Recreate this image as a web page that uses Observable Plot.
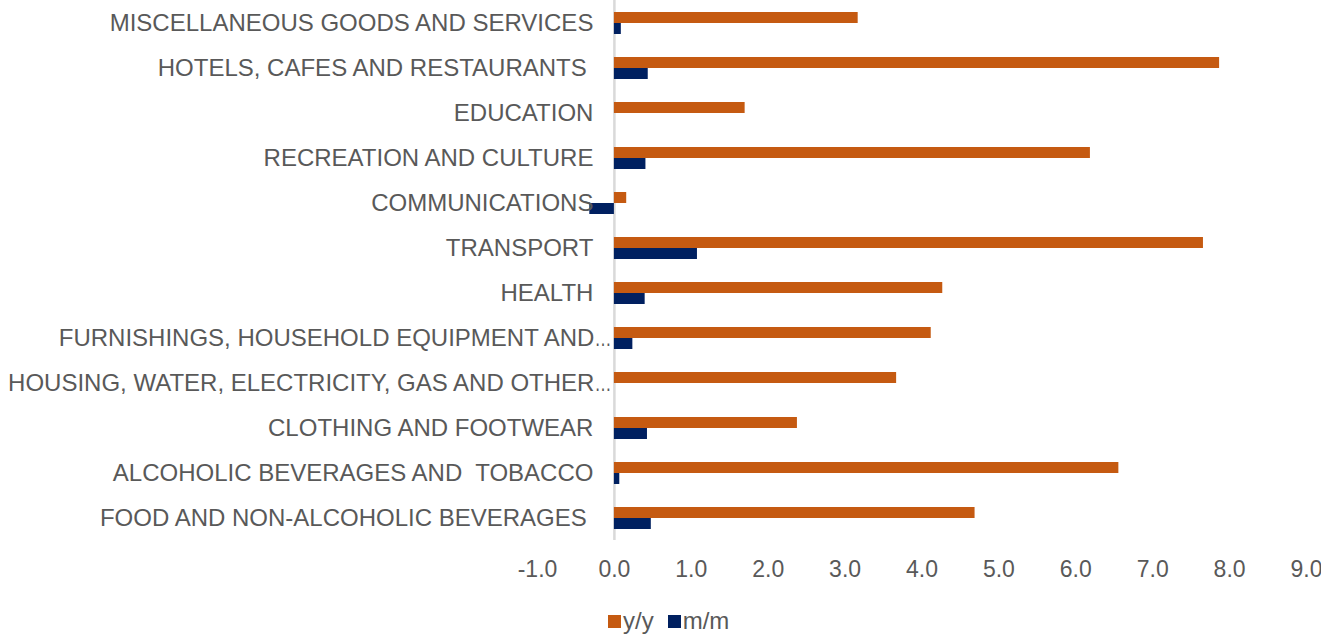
<!DOCTYPE html>
<html><head><meta charset="utf-8">
<script src="https://cdn.jsdelivr.net/npm/d3@7"></script>
<script src="https://cdn.jsdelivr.net/npm/@observablehq/plot@0.6"></script>
<style>
body{margin:0;background:#fff;font-family:"Liberation Sans",Arial,sans-serif;position:relative;width:1321px;height:635px;overflow:hidden;}
#legend{position:absolute;left:608px;top:606px;height:30px;display:flex;align-items:center;font-size:24px;color:#595959;line-height:30px;}
#legend .sw{display:inline-block;width:13px;height:13px;margin-right:2px;}
#legend .item{display:flex;align-items:center;margin-right:14px;}
</style></head><body><div id="chart"></div><div id="legend"></div>
<script>
const categories = [
  "MISCELLANEOUS GOODS AND SERVICES",
  "HOTELS, CAFES AND RESTAURANTS ",
  "EDUCATION",
  "RECREATION AND CULTURE",
  "COMMUNICATIONS",
  "TRANSPORT",
  "HEALTH",
  "FURNISHINGS, HOUSEHOLD EQUIPMENT AND…",
  "HOUSING, WATER, ELECTRICITY, GAS AND OTHER…",
  "CLOTHING AND FOOTWEAR",
  "ALCOHOLIC BEVERAGES AND  TOBACCO",
  "FOOD AND NON-ALCOHOLIC BEVERAGES "
];
const yoy = [3.17, 7.87, 1.70, 6.19, 0.16, 7.66, 4.27, 4.12, 3.67, 2.38, 6.56, 4.69];
const mom = [0.09, 0.44, 0.00, 0.41, -0.32, 1.08, 0.40, 0.24, 0.00, 0.43, 0.07, 0.48];
const series = ["y/y", "m/m"];
const colors = ["#C55A11", "#002060"];
const xTicks = [-1, 0, 1, 2, 3, 4, 5, 6, 7, 8, 9];

const data = categories.flatMap((c, i) => [
  {category: c, series: series[0], value: yoy[i]},
  {category: c, series: series[1], value: mom[i]}
]);
const truncated = c => c.endsWith("…");

const chart = Plot.plot({
  width: 1321, height: 600,
  marginLeft: 537, marginRight: 15, marginTop: 0, marginBottom: 58,
  style: {fontFamily: '"Liberation Sans", Arial, sans-serif', fontSize: "23px", color: "#595959", background: "white", overflow: "visible"},
  x: {domain: [-1, 9], label: null},
  fy: {domain: categories, padding: 0, axis: null, label: null, range: [-1.5, 540.5]},
  y: {domain: series, paddingInner: 0, paddingOuter: 0.88, axis: null},
  color: {domain: series, range: colors},
  marks: [
    Plot.axisX({ticks: xTicks, tickSize: 0, tickPadding: 20, tickFormat: d => d.toFixed(1), label: null, fill: "#595959", fontSize: 23}),
    Plot.ruleX([0], {stroke: "#d9d9d9", strokeWidth: 2.5}),
    Plot.barX(data, {fy: "category", y: "series", x: "value", fill: "series"}),
    Plot.text(categories.filter(c => !truncated(c)), {fy: d => d, x: 0, text: d => d, textAnchor: "end", dx: -21, fill: "#595959", fontSize: 24}),
    Plot.text(categories.filter(truncated), {fy: d => d, x: 0, text: d => d, textAnchor: "end", dx: -3, fill: "#595959", fontSize: 24, className: "trunc"})
  ]
});
document.getElementById("chart").append(chart);
chart.querySelectorAll("text").forEach(t => t.style.whiteSpace = "pre");
// draw the ellipsis narrower, as in the reference
chart.querySelectorAll("g.trunc text").forEach(t => {
  const s = t.textContent;
  if (!s.endsWith("…")) return;
  const ns = "http://www.w3.org/2000/svg";
  t.textContent = "";
  const a = document.createElementNS(ns, "tspan");
  a.textContent = s.slice(0, -1);
  const b = document.createElementNS(ns, "tspan");
  b.textContent = "…";
  b.setAttribute("textLength", "17");
  b.setAttribute("lengthAdjust", "spacingAndGlyphs");
  t.append(a, b);
});

const legend = document.getElementById("legend");
series.forEach((s, i) => {
  const it = document.createElement("span");
  it.className = "item";
  it.innerHTML = `<span class="sw" style="background:${colors[i]}"></span><span>${s}</span>`;
  legend.append(it);
});
</script>
</body></html>
